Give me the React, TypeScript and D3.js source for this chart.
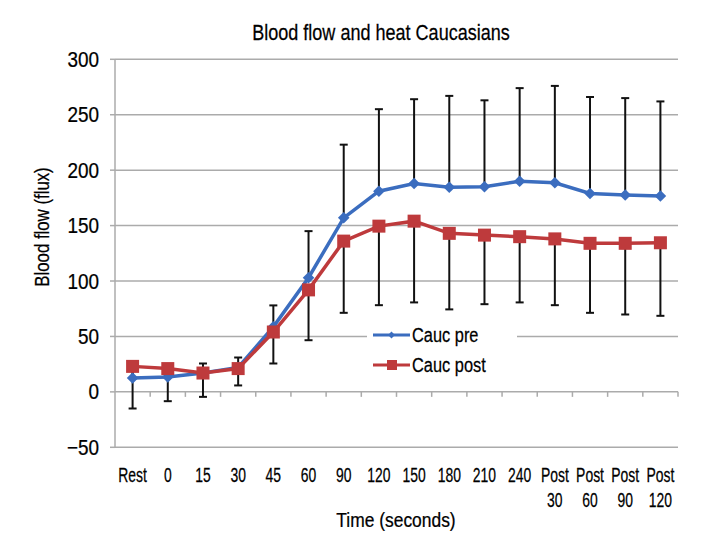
import * as d3 from "d3";
import React from "react";

// categories along the x axis (multi-line labels split on "\n")
const categories = [
  "Rest", "0", "15", "30", "45", "60", "90", "120", "150", "180", "210", "240",
  "Post\n30", "Post\n60", "Post\n90", "Post\n120",
];

// Cauc pre (blue) means and upper error
const preValues = [12.6, 13.5, 17, 22, 58.7, 103, 157, 181, 188, 184.5, 185, 190, 188.6, 179, 177.5, 176.6];
const preErr = [9, 7.5, 8.6, 9, 19.3, 42, 66, 74, 76, 82.5, 78, 84, 87.4, 87, 87.5, 85.4];

// Cauc post (red) means and lower error
const postValues = [23, 21, 17, 21, 54, 92, 136, 149.5, 154, 143, 141.4, 140, 138, 134, 134, 134.5];
const postErr = [38, 29.4, 21.5, 15.2, 28.4, 45.4, 64.7, 71.3, 73.3, 68.6, 62.3, 59.3, 59.8, 62.7, 64.2, 65.9];

const yTicks = [-50, 0, 50, 100, 150, 200, 250, 300];

const BLUE = "#3b6dbf";
const RED = "#be3a3c";
const GRID = "#ababab";
const FONT = "'Liberation Sans', Arial, sans-serif";

// text squeezed horizontally around its anchor, the original uses a condensed face
const T = ({ x, y, size, anchor = "middle", rotate = 0, sx = 0.82, children }: any) => (
  <g transform={`translate(${x},${y}) rotate(${rotate}) scale(${sx},1)`}>
    <text x={0} y={0} textAnchor={anchor} fontSize={size} fill="#000" stroke="#000" strokeWidth={0.25}>{children}</text>
  </g>
);

export default function App() {
  const left = 115, right = 678, top = 59.3, bottom = 447.3;

  const x = d3.scaleBand().domain(categories).range([left, right]).padding(0);
  const y = d3.scaleLinear().domain([-50, 300]).range([bottom, top]);
  const cx = (c: string) => (x(c) as number) + x.bandwidth() / 2;

  const line = d3
    .line<number>()
    .x((_, i) => cx(categories[i]))
    .y((d) => y(d));

  const diamond = d3.symbol().type(d3.symbolDiamond2).size(85);
  const capW = 4;

  return (
    <svg width={720} height={552} style={{ position: "absolute", left: 0, top: 0, background: "#fff" }} fontFamily={FONT}>
      {/* title */}
      <T x={381} y={40} size={22} sx={0.82}>Blood flow and heat Caucasians</T>

      {/* gridlines */}
      {yTicks.filter((t) => t !== 0).map((t) => (
        <line key={t} x1={left} x2={right} y1={y(t)} y2={y(t)} stroke={GRID} strokeWidth={1.5} />
      ))}

      {/* y axis */}
      <line x1={left} x2={left} y1={top} y2={bottom} stroke={GRID} strokeWidth={1.5} />
      {yTicks.map((t) => (
        <g key={t}>
          <line x1={left - 5} x2={left} y1={y(t)} y2={y(t)} stroke={GRID} strokeWidth={1.5} />
          <T x={99} y={y(t) + 7.5} size={21.5} anchor="end" sx={0.88}>
            {t < 0 ? `\u2212${Math.abs(t)}` : t}
          </T>
        </g>
      ))}

      {/* x axis at zero */}
      <line x1={left} x2={right} y1={y(0)} y2={y(0)} stroke={GRID} strokeWidth={1.5} />
      {categories.map((c) => (
        <line key={c} x1={(x(c) as number) + x.bandwidth()} x2={(x(c) as number) + x.bandwidth()} y1={y(0)} y2={y(0) + 5} stroke={GRID} strokeWidth={1.5} />
      ))}
      {categories.map((c) => (
        <T key={c} x={cx(c)} y={482} size={20.5} sx={0.68}>
          {c.split("\n").map((s, j) => (
            <tspan key={j} x={0} dy={j === 0 ? 0 : 25}>{s}</tspan>
          ))}
        </T>
      ))}

      {/* axis titles */}
      <T x={396} y={527} size={21} sx={0.83}>Time (seconds)</T>
      <T x={49} y={227} size={21} rotate={-90} sx={0.8}>Blood flow (flux)</T>

      {/* error bars */}
      {categories.map((c, i) => {
        const px = cx(c);
        const t = y(preValues[i] + preErr[i]);
        const b = y(postValues[i] - postErr[i]);
        return (
          <g key={c} stroke="#111" strokeWidth={2}>
            <line x1={px} x2={px} y1={y(preValues[i])} y2={t} />
            <line x1={px - capW} x2={px + capW} y1={t} y2={t} />
            <line x1={px} x2={px} y1={y(postValues[i])} y2={b} />
            <line x1={px - capW} x2={px + capW} y1={b} y2={b} />
          </g>
        );
      })}

      {/* Cauc pre */}
      <path d={line(preValues) ?? ""} fill="none" stroke={BLUE} strokeWidth={3.5} />
      {preValues.map((v, i) => (
        <path key={i} d={diamond() ?? ""} transform={`translate(${cx(categories[i])},${y(v)})`} fill={BLUE} />
      ))}

      {/* Cauc post */}
      <path d={line(postValues) ?? ""} fill="none" stroke={RED} strokeWidth={3.5} />
      {postValues.map((v, i) => (
        <rect key={i} x={cx(categories[i]) - 6.5} y={y(v) - 6.5} width={13} height={13} fill={RED} />
      ))}

      {/* legend */}
      <rect x={367} y={320} width={150} height={60} fill="#fff" />
      <line x1={373} x2={410} y1={335} y2={335} stroke={BLUE} strokeWidth={3} />
      <path d={d3.symbol().type(d3.symbolDiamond2).size(30)() ?? ""} transform="translate(391.5,335)" fill={BLUE} />
      <T x={412} y={342} size={21} anchor="start" sx={0.78}>Cauc pre</T>
      <line x1={373} x2={410} y1={365} y2={365} stroke={RED} strokeWidth={3} />
      <rect x={387} y={360} width={10} height={10} fill={RED} />
      <T x={412} y={372} size={21} anchor="start" sx={0.78}>Cauc post</T>
    </svg>
  );
}
